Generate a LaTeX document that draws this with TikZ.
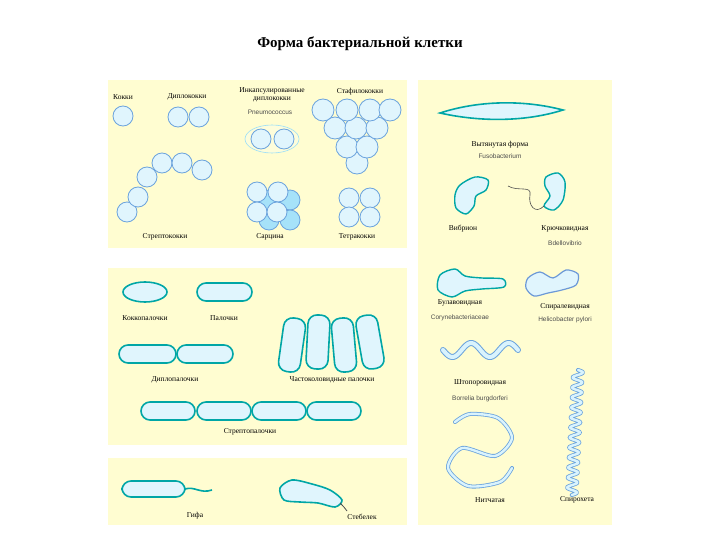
\documentclass[tikz,border=0pt]{standalone}
\usepackage{fontspec}
\setmainfont{Liberation Serif}
\newfontfamily\latinsans{Liberation Sans}
\begin{document}
\begin{tikzpicture}[x=1pt,y=-1pt,
 panel/.style={fill=yellow!18!white,draw=none},
 cell/.style={fill=cyan!12!white,draw=cyan!60!blue!60,line width=0.8pt},
 dcell/.style={fill=cyan!35!white,draw=cyan!60!blue!60,line width=0.8pt},
 rod/.style={fill=cyan!12!white,draw=teal!70!cyan,line width=1.6pt,rounded corners=9pt},
 lab/.style={font=\fontsize{7.5}{8}\selectfont,inner sep=0pt},
 latin/.style={font=\latinsans\fontsize{6.5}{7}\selectfont,text=black!70,inner sep=0pt},
 tube/.style={draw=cyan!60!blue!60,line width=4pt,line cap=round,line join=round},
 tubein/.style={draw=cyan!15!white,line width=2.4pt,line cap=round,line join=round}]
\useasboundingbox (0,0) rectangle (720,540);
\node[font=\bfseries\fontsize{15}{17}\selectfont] (title) at (360,44) {Форма бактериальной клетки};
\fill[panel] (108,80) rectangle (407,248);
\fill[panel] (108,268) rectangle (407,445);
\fill[panel] (108,458) rectangle (407,525);
\fill[panel] (418,80) rectangle (612,525);
% cocci
\node[lab] (l1) at (123,97) {Кокки};
\draw[cell] (123,116) circle (10);
\node[lab] (l2) at (187,97) {Диплококки};
\draw[cell] (178,117) circle (10); \draw[cell] (199,117) circle (10);
\node[lab,align=center] (l3) at (272,95) {Инкапсулированные\\диплококки};
\node[latin] (l3b) at (270,112) {Pneumococcus};
\draw[cyan!40,line width=0.6pt,fill=cyan!5!yellow!15] (272,139) ellipse (27 and 14);
\draw[cell] (261,139) circle (10); \draw[cell] (284,139) circle (10);
\node[lab] (l4) at (360,92) {Стафилококки};
\foreach \p in {(357,163),(347,147),(367,147),(335,128),(356,128),(377,128),(323,110),(347,110),(370,110),(390,110)} \draw[cell] \p circle (11);
\foreach \p in {(127,212),(138,197),(147,177),(162,163),(182,163),(202,170)} \draw[cell] \p circle (10);
\node[lab] (l5) at (165,237) {Стрептококки};
\foreach \p in {(269,200),(290,200),(269,220),(290,220)} \draw[dcell] \p circle (10);
\foreach \p in {(257,192),(278,192),(257,212),(277,212)} \draw[cell] \p circle (10);
\node[lab] (l6) at (270,237) {Сарцина};
\foreach \p in {(349,198),(370,198),(349,217),(370,217)} \draw[cell] \p circle (10);
\node[lab] (l7) at (357,237) {Тетракокки};
% rods
\draw[rod] (145,292) ellipse (22 and 10);
\node[lab] (l8) at (145,318) {Коккопалочки};
\draw[rod] (197,283) rectangle (252,301);
\node[lab] (l9) at (224,318) {Палочки};
\draw[rod] (119,345) rectangle (176,363);
\draw[rod] (177,345) rectangle (233,363);
\node[lab] (l10) at (175,380) {Диплопалочки};
\foreach \x/\y/\a in {292/345/-8,318/342/-3,344/345/5,370/342/10}
  \draw[rod,rotate around={\a:(\x,\y)}] (\x-11,\y-27) rectangle (\x+11,\y+27);
\node[lab] (l11) at (332,380) {Частоколовидные палочки};
\foreach \x in {168,224,279,334} \draw[rod] (\x-27,402) rectangle (\x+27,420);
\node[lab] (l12) at (250,432) {Стрептопалочки};
% hypha, stalk
\draw[rod] (122,481) rectangle (185,497);
\draw[teal!70!cyan,line width=1.6pt] (185,489) .. controls (195,486) and (200,494) .. (212,490);
\node[lab] (l13) at (195,516) {Гифа};
\draw[fill=cyan!12!white,draw=teal!70!cyan,line width=1.6pt] plot[smooth cycle] coordinates {(280,488) (292,480) (312,484) (330,490) (342,500) (335,507) (318,503) (300,502) (284,500)};
\draw[black!70,line width=0.8pt] (340,503) .. controls (343,506) and (345,508) .. (347,511);
\node[lab] (l14) at (362,517) {Стебелек};
% right panel
\draw[fill=cyan!12!white,draw=teal!70!cyan,line width=1.6pt] (440,113) .. controls (480,100) and (525,100) .. (563,110) .. controls (525,122) and (480,122) .. (440,113) -- cycle;
\node[lab] (l15) at (500,145) {Вытянутая форма};
\node[latin] (l16) at (500,156) {Fusobacterium};
\draw[fill=cyan!12!white,draw=teal!70!cyan,line width=1.4pt] plot[smooth cycle] coordinates {(460,185) (475,177) (488,180) (486,190) (476,196) (474,206) (466,214) (456,208) (455,195)};
\draw[fill=cyan!12!white,draw=teal!70!cyan,line width=1.4pt] plot[smooth cycle] coordinates {(546,177) (558,173) (565,182) (563,200) (554,210) (544,206) (550,196) (545,186)};
\draw[black!70,line width=0.6pt] (544,206) .. controls (535,215) and (528,205) .. (530,195) .. controls (532,185) and (518,192) .. (508,186);
\node[lab] (l17) at (463,229) {Вибрион};
\node[lab] (l18) at (565,229) {Крючковидная};
\node[latin] (l19) at (565,243) {Bdellovibrio};
\draw[fill=cyan!12!white,draw=teal!70!cyan,line width=1.4pt] plot[smooth cycle] coordinates {(440,275) (455,269) (465,276) (482,278) (503,279) (504,287) (482,289) (465,291) (452,297) (438,290)};
\node[lab] (l20) at (460,303) {Булавовидная};
\node[latin] (l21) at (460,318) {Corynebacteriaceae};
\draw[fill=cyan!12!white,draw=cyan!50!blue!60,line width=1.2pt] plot[smooth cycle] coordinates {(528,278) (540,272) (553,278) (566,270) (578,274) (576,285) (562,290) (548,293) (534,296) (526,288)};
\node[lab] (l22) at (565,307) {Спиралевидная};
\node[latin] (l23) at (565,320) {Helicobacter pylori};
\draw[tube,line width=6pt] plot[domain=0:75,samples=60,smooth] ({443+\x},{350+7*sin(\x*9.6)});
\draw[tubein,line width=4pt] plot[domain=0:75,samples=60,smooth] ({443+\x},{350+7*sin(\x*9.6)});
\node[lab] (l24) at (480,383) {Штопоровидная};
\node[latin] (l25) at (480,399) {Borrelia burgdorferi};
\draw[tube] plot[smooth] coordinates {(455,422) (470,414) (498,418) (512,438) (495,456) (462,448) (448,468) (468,486) (500,482) (512,468)};
\draw[tubein] plot[smooth] coordinates {(455,422) (470,414) (498,418) (512,438) (495,456) (462,448) (448,468) (468,486) (500,482) (512,468)};
\node[lab] (l26) at (490,500) {Нитчатая};
\draw[tube] plot[domain=0:125,samples=200,smooth] ({578+5*sin(\x*36)-0.05*\x},{370+\x});
\draw[tubein] plot[domain=0:125,samples=200,smooth] ({578+5*sin(\x*36)-0.05*\x},{370+\x});
\node[lab] (l27) at (577,500) {Спирохета};
\end{tikzpicture}
\end{document}
